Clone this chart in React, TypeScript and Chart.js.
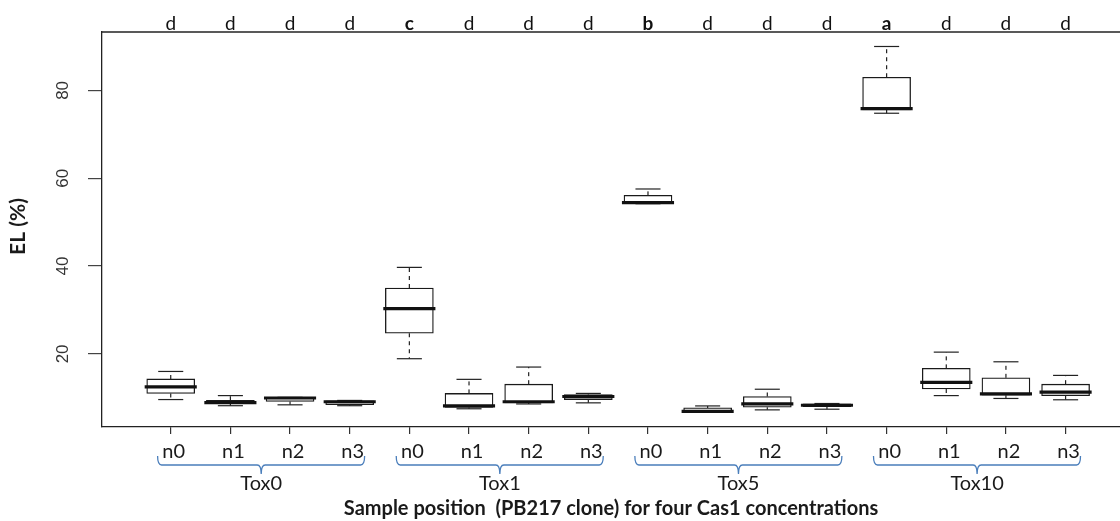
import React, { useEffect, useRef } from "react";
import { Chart, registerables } from "chart.js";

Chart.register(...registerables);

const groups = ["Tox0", "Tox1", "Tox5", "Tox10"];
const samples = ["n0", "n1", "n2", "n3"];
const letters = ["d", "d", "d", "d", "c", "d", "d", "d", "b", "d", "d", "d", "a", "d", "d", "d"];
const boldLetters = ["a", "b", "c"];
const lowerWhisker = [9.6, 8.2, 8.4, 8.2, 18.9, 7.5, 8.6, 8.85, 54.2, 6.7, 7.25, 7.4, 74.8, 10.5, 9.85, 9.55];
const q1 = [11.0, 8.7, 9.15, 8.45, 24.7, 7.8, 8.85, 9.6, 54.3, 6.75, 7.85, 8.0, 75.55, 12.0, 10.6, 10.5];
const medians = [12.5, 8.9, 9.95, 9.1, 30.3, 8.15, 9.1, 10.3, 54.45, 6.9, 8.6, 8.3, 75.85, 13.5, 10.9, 11.3];
const q3 = [14.3, 9.45, 10.05, 9.3, 35.0, 11.0, 13.1, 10.75, 56.1, 7.7, 10.3, 8.6, 83.0, 16.7, 14.55, 13.1];
const upperWhisker = [16.0, 10.5, 10.1, 9.4, 39.7, 14.2, 17.0, 11.0, 57.55, 8.15, 11.95, 8.7, 90.0, 20.4, 18.2, 15.1];
const yTicks = [20, 40, 60, 80];
const yTitle = "EL (%)";
const xTitle = "Sample position  (PB217 clone) for four Cas1 concentrations";

const FONT = "Lato, 'Open Sans', sans-serif";
const TICK_FONT = "'Liberation Sans', Arial, sans-serif";

const extras = {
  id: "boxExtras",
  afterDatasetsDraw(chart: any) {
    const { ctx, scales } = chart;
    const x = scales.x;
    const y = scales.y;
    ctx.save();
    for (let i = 0; i < medians.length; i++) {
      const px = x.getPixelForValue(i + 1);
      const capHalf = x.getPixelForValue(i + 1.21) - px;
      const boxHalf = x.getPixelForValue(i + 1.42) - px;
      ctx.strokeStyle = "#222";
      ctx.lineWidth = 1.2;
      ctx.setLineDash([4, 4]);
      const segs = [
        [q3[i], upperWhisker[i]],
        [q1[i], lowerWhisker[i]],
      ];
      for (const [a, b] of segs) {
        if (Math.abs(a - b) > 0.01) {
          ctx.beginPath();
          ctx.moveTo(px, y.getPixelForValue(a));
          ctx.lineTo(px, y.getPixelForValue(b));
          ctx.stroke();
        }
      }
      ctx.setLineDash([]);
      for (const v of [upperWhisker[i], lowerWhisker[i]]) {
        const py = y.getPixelForValue(v);
        ctx.beginPath();
        ctx.moveTo(px - capHalf, py);
        ctx.lineTo(px + capHalf, py);
        ctx.stroke();
      }
      ctx.strokeStyle = "#111";
      ctx.lineWidth = 3.2;
      const my = y.getPixelForValue(medians[i]);
      ctx.beginPath();
      ctx.moveTo(px - boxHalf - 1, my);
      ctx.lineTo(px + boxHalf + 1, my);
      ctx.stroke();
    }
    ctx.restore();
  },
  afterDraw(chart: any) {
    const { ctx, chartArea, scales } = chart;
    const x = scales.x;
    ctx.save();
    // top frame line
    ctx.strokeStyle = "#222";
    ctx.lineWidth = 1.3;
    ctx.beginPath();
    ctx.moveTo(chartArea.left, chartArea.top);
    ctx.lineTo(chartArea.right, chartArea.top);
    ctx.stroke();
    // y axis title
    ctx.save();
    ctx.translate(18, (chartArea.top + chartArea.bottom) / 2 - 3);
    ctx.rotate(-Math.PI / 2);
    ctx.fillStyle = "#1a1a1a";
    ctx.font = `bold 21px ${FONT}`;
    ctx.textAlign = "center";
    ctx.textBaseline = "middle";
    ctx.fillText(yTitle, 0, 0);
    ctx.restore();
    // significance letters
    ctx.fillStyle = "#111";
    ctx.textAlign = "center";
    ctx.textBaseline = "alphabetic";
    letters.forEach((l, i) => {
      const bold = boldLetters.includes(l);
      ctx.font = `${bold ? "bold " : ""}19px ${FONT}`;
      ctx.fillText(l, x.getPixelForValue(i + 1), chartArea.top - 2);
    });
    // braces and group labels
    const b = chartArea.bottom;
    const yTop = b + 29;
    const yMid = b + 38;
    const yBot = b + 47;
    const r = 4;
    groups.forEach((g, gi) => {
      const first = gi * samples.length + 1;
      const last = first + samples.length - 1;
      const x1 = x.getPixelForValue(first - 0.22);
      const x2 = x.getPixelForValue(last + 0.25);
      const xm = x.getPixelForValue((first + last) / 2) + 1;
      ctx.strokeStyle = "#4a7ebb";
      ctx.lineWidth = 1.3;
      ctx.beginPath();
      ctx.moveTo(x1, yTop);
      ctx.quadraticCurveTo(x1, yMid, x1 + r, yMid);
      ctx.lineTo(xm - r, yMid);
      ctx.quadraticCurveTo(xm, yMid, xm, yBot);
      ctx.quadraticCurveTo(xm, yMid, xm + r, yMid);
      ctx.lineTo(x2 - r, yMid);
      ctx.quadraticCurveTo(x2, yMid, x2, yTop);
      ctx.stroke();
      ctx.fillStyle = "#1a1a1a";
      ctx.font = `20px ${FONT}`;
      ctx.textAlign = "center";
      ctx.textBaseline = "middle";
      ctx.fillText(g, xm, b + 57);
    });
    ctx.restore();
  },
};

export default function App() {
  const ref = useRef<HTMLCanvasElement | null>(null);
  useEffect(() => {
    const canvas = ref.current;
    if (!canvas) return;
    const labelsCount = medians.length;
    const chart = new Chart(canvas, {
      type: "bar",
      data: {
        datasets: [
          {
            data: q1.map((v, i) => ({ x: i + 1, y: [v, q3[i]] })) as any,
            backgroundColor: "#ffffff",
            borderColor: "#1a1a1a",
            borderWidth: 1.3,
            borderSkipped: false,
            barThickness: 48,
          } as any,
        ],
      },
      options: {
        animation: false,
        responsive: false,
        devicePixelRatio: 1,
        layout: { padding: { left: 0, right: 0, top: 32, bottom: 0 } },
        plugins: { legend: { display: false }, tooltip: { enabled: false } },
        scales: {
          x: {
            type: "linear",
            min: -0.152,
            max: 16.912,
            offset: false,
            afterBuildTicks: (s: any) => {
              s.ticks = Array.from({ length: labelsCount }, (_, i) => ({ value: i + 1 }));
            },
            afterFit: (s: any) => {
              s.height = 94;
            },
            grid: { offset: false, drawOnChartArea: false, drawTicks: true, tickLength: 7, color: "#333", lineWidth: 1.2 },
            border: { display: true, color: "#222", width: 1.3 },
            ticks: {
              autoSkip: false,
              maxRotation: 0,
              minRotation: 0,
              padding: 6,
              labelOffset: 3,
              color: "#1a1a1a",
              font: { family: FONT, size: 20 },
              callback: (_v: any, i: number) => samples[i % samples.length],
            },
            title: {
              display: true,
              text: xTitle,
              color: "#1a1a1a",
              font: { family: FONT, size: 20, weight: "bold" },
              padding: { top: 0, bottom: 0 },
            },
          },
          y: {
            type: "linear",
            min: 3.35,
            max: 93.3,
            afterBuildTicks: (s: any) => {
              s.ticks = yTicks.map((v) => ({ value: v }));
            },
            afterFit: (s: any) => {
              s.width = 102;
            },
            grid: { drawOnChartArea: false, drawTicks: true, tickLength: 14, color: "#444", lineWidth: 1.2 },
            border: { display: true, color: "#222", width: 1.3 },
            ticks: {
              minRotation: 90,
              maxRotation: 90,
              crossAlign: "center",
              padding: 15,
              color: "#333",
              font: { family: TICK_FONT, size: 17 },
            },
            title: { display: false },
          },
        },
      } as any,
      plugins: [extras],
    });
    return () => chart.destroy();
  }, []);
  return (
    <div style={{ position: "absolute", left: 0, top: 0, width: 1120, height: 521, background: "#fff" }}>
      <canvas ref={ref} width={1120} height={521} style={{ display: "block" }} />
    </div>
  );
}
